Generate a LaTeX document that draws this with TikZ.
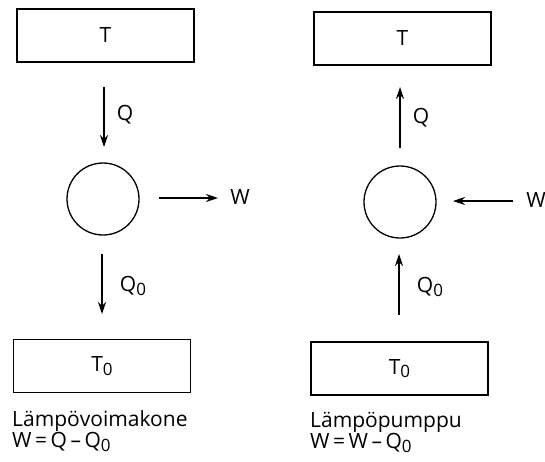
\documentclass[tikz,border=0pt]{standalone}
\usepackage{fontspec}
\setmainfont{Open Sans}
\usetikzlibrary{arrows.meta}
% subscript zero in the style of the labels
\newcommand{\lowz}{\raisebox{-3.5pt}{\fontsize{17}{17}\selectfont 0}}
\begin{document}
\begin{tikzpicture}[x=1pt,y=-1pt,
  txt/.style={font=\fontsize{21}{24}\selectfont},
  reservoir/.style={draw,line width=1.3pt,minimum width=177pt,minimum height=53pt,inner sep=0pt,txt},
  engine/.style={draw,circle,line width=1.3pt,minimum size=72pt,inner sep=0pt},
  flow/.style={line width=1.4pt,-{Stealth[length=12pt,width=8pt]}},
  lbl/.style={txt,inner sep=0pt},
  caption/.style={txt,inner sep=0pt,anchor=west}]
\useasboundingbox (0,0) rectangle (545,461);
% heat engine
\node[reservoir] (Th1) at (105.5,35.5) {T};
\node[engine] (E1) at (103,199) {};
\node[reservoir] (Tc1) at (102,366) {T\lowz};
\coordinate (q1a) at (104,87);
\coordinate (q1b) at (104,147);
\coordinate (q01a) at (102,254);
\coordinate (q01b) at (102,314);
\coordinate (w1a) at (159,198);
\coordinate (w1b) at (218,198);
\draw[flow] (q1a) -- (q1b);
\draw[flow] (q01a) -- (q01b);
\draw[flow] (w1a) -- (w1b);
\node[lbl] (Q1) at (125,115) {Q};
\node[lbl] (Q01) at (133,286) {Q\lowz};
\node[lbl] (W1) at (240,197) {W};
\node[caption] (c1a) at (12,421) {Lämpövoimakone};
\node[caption] (c1b) at (12,442) {W\,=\,Q\,–\,Q\lowz};
% heat pump
\node[reservoir] (Th2) at (402.5,38.5) {T};
\node[engine] (E2) at (400,202) {};
\node[reservoir] (Tc2) at (399.5,368.5) {T\lowz};
\coordinate (q2a) at (400,148);
\coordinate (q2b) at (400,87);
\coordinate (q02a) at (399,315);
\coordinate (q02b) at (399,254);
\coordinate (w2a) at (513,201);
\coordinate (w2b) at (453,201);
\draw[flow] (q2a) -- (q2b);
\draw[flow] (q02a) -- (q02b);
\draw[flow] (w2a) -- (w2b);
\node[lbl] (Q2) at (421,118) {Q};
\node[lbl] (Q02) at (430,287) {Q\lowz};
\node[lbl] (W2) at (536,200) {W};
\node[caption] (c2a) at (310,422) {Lämpöpumppu};
\node[caption] (c2b) at (310,443) {W\,=\,W\,–\,Q\lowz};
\end{tikzpicture}
\end{document}
